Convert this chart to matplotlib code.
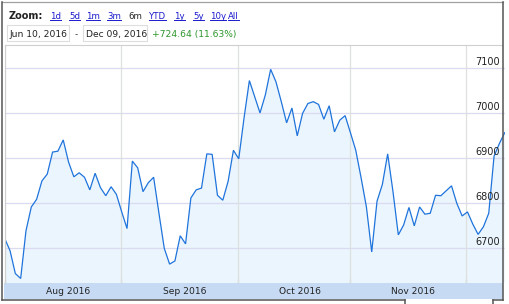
import matplotlib
matplotlib.use("Agg")
import matplotlib.pyplot as plt
from matplotlib.lines import Line2D
from matplotlib.patches import Rectangle
from matplotlib.transforms import blended_transform_factory as blend

# closing values, one per trading session (oldest first)
values = [6722, 6695, 6644, 6633, 6739, 6792, 6809, 6850, 6865, 6914,
          6916, 6941, 6892, 6859, 6868, 6858, 6830, 6867, 6835, 6817,
          6837, 6820, 6781, 6744, 6894, 6879, 6826, 6846, 6858, 6778,
          6700, 6665, 6672, 6728, 6710, 6812, 6830, 6834, 6910, 6909,
          6818, 6807, 6849, 6918, 6899, 6990, 7073, 7037, 7001, 7041,
          7098, 7070, 7026, 6979, 7012, 6950, 7000, 7022, 7026, 7020,
          6987, 7017, 6959, 6985, 6995, 6957, 6918, 6857, 6792, 6692,
          6805, 6842, 6910, 6826, 6730, 6752, 6791, 6750, 6792, 6776,
          6778, 6818, 6817, 6828, 6839, 6800, 6772, 6781, 6754, 6731,
          6748, 6778, 6905, 6933, 6957]
sessions = list(range(len(values)))
month_edges = [0.06, 21.86, 43.9, 64.9, 86.7]
month_mid = [11.9, 33.8, 55.5, 76.8]
month_labels = ["Aug 2016", "Sep 2016", "Oct 2016", "Nov 2016"]
y_ticks = [6700, 6800, 6900, 7000, 7100]
zoom_links = ["1d", "5d", "1m", "3m", "6m", "YTD", "1y", "5y", "10y", "All"]
zoom_x = [50, 69, 86, 107, 128, 149, 174, 193, 210, 228]
zoom_active = "6m"
date_from, date_to = "Jun 10, 2016", "Dec 09, 2016"
change_txt = "+724.64 (11.63%)"

W, H = 509, 304
LINE = "#1f74dc"; FILL = "#ebf5fd"; HGRID = "#dadaf0"; VGRID = "#dde1dd"
BAND = "#c6dbf3"; LINK = "#1a1acc"; FRAME = "#555555"


def fp(x, y):
    return x / W, 1 - y / H


fig = plt.figure(figsize=(W / 100, H / 100), dpi=100)
fig.patch.set_facecolor("white")

ax = fig.add_axes([4.7 / W, 1 - 283 / H, 500 / W, 238 / H])
ax.set_facecolor("none")
ax.fill_between(sessions, values, 6000, color=FILL, lw=0, zorder=1)
ax.plot(sessions, values, color=LINE, lw=0.9, zorder=4, solid_joinstyle="miter")
for v in y_ticks:
    ax.axhline(v, color=HGRID, lw=0.9, zorder=2)
    ax.text(0.991, v + 3, str(v), transform=blend(ax.transAxes, ax.transData),
            ha="right", va="bottom", fontsize=7, color="#222222", zorder=5)
for m in month_edges:
    ax.axvline(m, color=VGRID, lw=0.9, zorder=2)
ax.set_xlim(0, 94)
ax.set_ylim(6623, 7152)
ax.set_xticks(month_edges)
ax.set_yticks([])
ax.tick_params(axis="x", direction="in", length=3, width=0.8, color="#777777",
               labelbottom=False)
for s in ax.spines.values():
    s.set_visible(False)

# navigator band with month labels
x0, y0 = fp(3.5, 299)
fig.add_artist(Rectangle((x0, y0), 499 / W, 16 / H, transform=fig.transFigure,
                         facecolor=BAND, edgecolor="none"))
tb = blend(ax.transData, fig.transFigure)
for m, lab in zip(month_mid, month_labels):
    fig.text(m, fp(0, 291.5)[1], lab, transform=tb, ha="center", va="center",
             fontsize=6.6, color="#222222")

# frame
def seg(xs, ys, c=FRAME, lw=1.1):
    fig.add_artist(Line2D([x / W for x in xs], [1 - y / H for y in ys],
                          transform=fig.transFigure, color=c, lw=lw))

seg([5, 502], [45, 45], c="#cfcfcf", lw=0.8)
seg([5, 5], [45, 283], c="#cfcfcf", lw=0.8)
seg([2, 502.5], [1.5, 1.5], c="#a0a0a0", lw=0.9)
seg([2, 2], [1.5, 300])
seg([502.5, 502.5], [1.5, 300])
seg([2, 405], [299.8, 299.8])
seg([493, 502.5], [299.8, 299.8])
seg([405, 405], [299.8, 306])
seg([493, 493], [299.8, 306])

# header
fig.text(*fp(9, 19), "Zoom:", fontsize=7, weight="bold", color="#222222",
         ha="left", va="baseline")
fig.canvas.draw()
for lab, x in zip(zoom_links, zoom_x):
    if lab == zoom_active:
        fig.text(*fp(x, 19), lab, fontsize=6.2, color="#222222", ha="left", va="baseline")
    else:
        t = fig.text(*fp(x, 19), lab, fontsize=6.2, color=LINK, ha="left", va="baseline")
        bb = t.get_window_extent(renderer=fig.canvas.get_renderer())
        fig.add_artist(Line2D([bb.x0 / W, bb.x1 / W], [1 - 20.3 / H] * 2,
                              transform=fig.transFigure, color=LINK, lw=0.7))

for (bx0, bx1), txt in zip([(6.7, 69), (83, 147)], [date_from, date_to]):
    fig.add_artist(Rectangle(fp(bx0, 40.7), (bx1 - bx0) / W, 15.7 / H,
                             transform=fig.transFigure, facecolor="white",
                             edgecolor="#dddddd", lw=0.8))
    fig.text(*fp(bx0 + 2.5, 37), txt, fontsize=6.6, color="#222222",
             ha="left", va="baseline")
fig.text(*fp(76, 37), "-", fontsize=6.6, color="#444444", ha="center", va="baseline")
fig.text(*fp(152, 37), change_txt, fontsize=6.6, color="#2a962a", ha="left", va="baseline")

fig.savefig("out.png", dpi=100, facecolor="white")
